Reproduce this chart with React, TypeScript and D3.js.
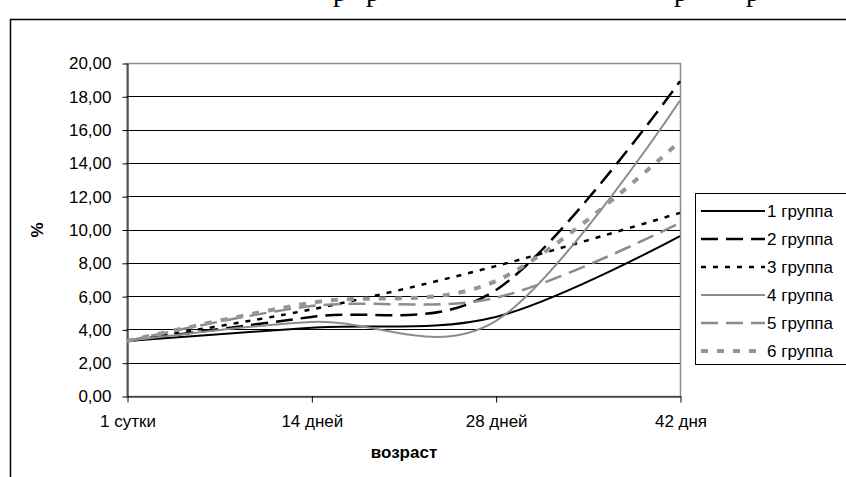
import React, { useEffect, useRef } from 'react';
import * as d3 from 'd3';

const categories = ['1 сутки', '14 дней', '28 дней', '42 дня'];
const yTicks = [0, 2, 4, 6, 8, 10, 12, 14, 16, 18, 20];

const group1 = [3.3, 4.1, 4.75, 9.6];
const group2 = [3.3, 4.75, 6.35, 18.9];
const group3 = [3.3, 5.2, 7.8, 11.0];
const group4 = [3.3, 4.45, 4.5, 17.75];
const group5 = [3.3, 5.4, 5.9, 10.4];
const group6 = [3.3, 5.6, 6.9, 15.3];

const seriesNames = ['1 группа', '2 группа', '3 группа', '4 группа', '5 группа', '6 группа'];

const W = 846;
const H = 477;

const App: React.FC = () => {
  const svgRef = useRef<SVGSVGElement>(null);

  useEffect(() => {
    document.body.style.margin = '0';
    const svg = d3.select(svgRef.current);
    svg.selectAll('*').remove();

    const font = "'Liberation Sans', Arial, sans-serif";
    const plot = { left: 127, right: 680, top: 63, bottom: 396 };

    const x = d3.scalePoint<string>().domain(categories).range([plot.left, plot.right]);
    const y = d3.scaleLinear().domain([0, 20]).range([plot.bottom, plot.top]);

    svg.append('rect').attr('width', W).attr('height', H).attr('fill', '#fff');

    // heading above the frame, cut off by the page edge (only descenders show)
    [340, 373, 681, 753].forEach(px => {
      svg.append('text')
        .attr('x', px)
        .attr('y', 1)
        .attr('text-anchor', 'middle')
        .style('font-family', "'Liberation Serif', 'Times New Roman', serif")
        .style('font-size', '28px')
        .text('р');
    });

    // chart area frame
    svg.append('rect')
      .attr('x', 10.5)
      .attr('y', 19.5)
      .attr('width', 900)
      .attr('height', 500)
      .attr('fill', '#fff')
      .attr('stroke', '#000')
      .attr('stroke-width', 1.5);

    const g = svg.append('g');

    // plot area border (grey)
    g.append('rect')
      .attr('x', plot.left)
      .attr('y', plot.top + 0.5)
      .attr('width', plot.right - plot.left + 0.5)
      .attr('height', plot.bottom - plot.top)
      .attr('fill', 'none')
      .attr('stroke', '#8a8a8a')
      .attr('stroke-width', 1.5);

    // gridlines
    g.selectAll('.grid')
      .data(yTicks.filter(t => t > 0 && t < 20))
      .enter().append('line')
      .attr('x1', plot.left)
      .attr('x2', plot.right)
      .attr('y1', d => Math.round(y(d)) + 0.5)
      .attr('y2', d => Math.round(y(d)) + 0.5)
      .attr('stroke', '#000')
      .attr('stroke-width', 1);

    // y axis
    const yAxis = g.append('g')
      .attr('transform', `translate(${plot.left + 0.5},0.5)`)
      .call(d3.axisLeft(y).tickValues(yTicks).tickSize(5).tickSizeOuter(0)
        .tickFormat(d => d3.format('.2f')(d as number).replace('.', ',')));
    yAxis.select('.domain').attr('stroke', '#000');
    yAxis.selectAll('.tick line').attr('stroke', '#000');
    yAxis.selectAll('.tick text')
      .attr('x', -16)
      .attr('fill', '#000')
      .style('font-family', font)
      .style('font-size', '17px');

    // x axis
    const xAxis = g.append('g')
      .attr('transform', `translate(0.5,${plot.bottom + 0.5})`)
      .call(d3.axisBottom(x).tickSize(6).tickSizeOuter(0));
    xAxis.select('.domain').attr('stroke', '#000');
    xAxis.selectAll('.tick line').attr('stroke', '#000');
    xAxis.selectAll('.tick text')
      .attr('y', 18)
      .attr('fill', '#000')
      .style('font-family', font)
      .style('font-size', '17px');

    // axis titles
    svg.append('text')
      .attr('x', 404)
      .attr('y', 458)
      .attr('text-anchor', 'middle')
      .style('font-family', font)
      .style('font-size', '17px')
      .style('font-weight', 'bold')
      .text('возраст');

    svg.append('text')
      .attr('transform', 'translate(43,230) rotate(-90)')
      .attr('text-anchor', 'middle')
      .style('font-family', font)
      .style('font-size', '17px')
      .style('font-weight', 'bold')
      .text('%');

    const series = [
      { name: seriesNames[0], values: group1, color: '#000', width: 2, dash: null as string | null },
      { name: seriesNames[1], values: group2, color: '#000', width: 2.5, dash: '17,8' },
      { name: seriesNames[2], values: group3, color: '#000', width: 2.5, dash: '5,7' },
      { name: seriesNames[3], values: group4, color: '#8c8c8c', width: 2, dash: null },
      { name: seriesNames[4], values: group5, color: '#8c8c8c', width: 2.5, dash: '17,8' },
      { name: seriesNames[5], values: group6, color: '#969696', width: 4, dash: '7,9' },
    ];

    // Excel-like smoothed lines
    const line = d3.line<number>()
      .x((_, i) => x(categories[i])!)
      .y(d => y(d))
      .curve(d3.curveCardinal.tension(0));

    series.forEach(s => {
      g.append('path')
        .datum(s.values)
        .attr('d', line)
        .attr('fill', 'none')
        .attr('stroke', s.color)
        .attr('stroke-width', s.width)
        .attr('stroke-dasharray', s.dash)
        .attr('stroke-linejoin', 'round');
    });

    // legend
    const lg = svg.append('g').attr('transform', 'translate(695,193)');
    lg.append('rect')
      .attr('x', 0.5)
      .attr('y', 0.5)
      .attr('width', 200)
      .attr('height', 171)
      .attr('fill', '#fff')
      .attr('stroke', '#000')
      .attr('stroke-width', 1);

    series.forEach((s, i) => {
      const ly = 18 + i * 28;
      lg.append('line')
        .attr('x1', 6)
        .attr('x2', 70)
        .attr('y1', ly)
        .attr('y2', ly)
        .attr('stroke', s.color)
        .attr('stroke-width', s.width)
        .attr('stroke-dasharray', s.dash);
      lg.append('text')
        .attr('x', 72)
        .attr('y', ly + 6)
        .style('font-family', font)
        .style('font-size', '17px')
        .text(s.name);
    });
  }, []);

  return <svg ref={svgRef} width={W} height={H} style={{ display: 'block' }} />;
};

export default App;
